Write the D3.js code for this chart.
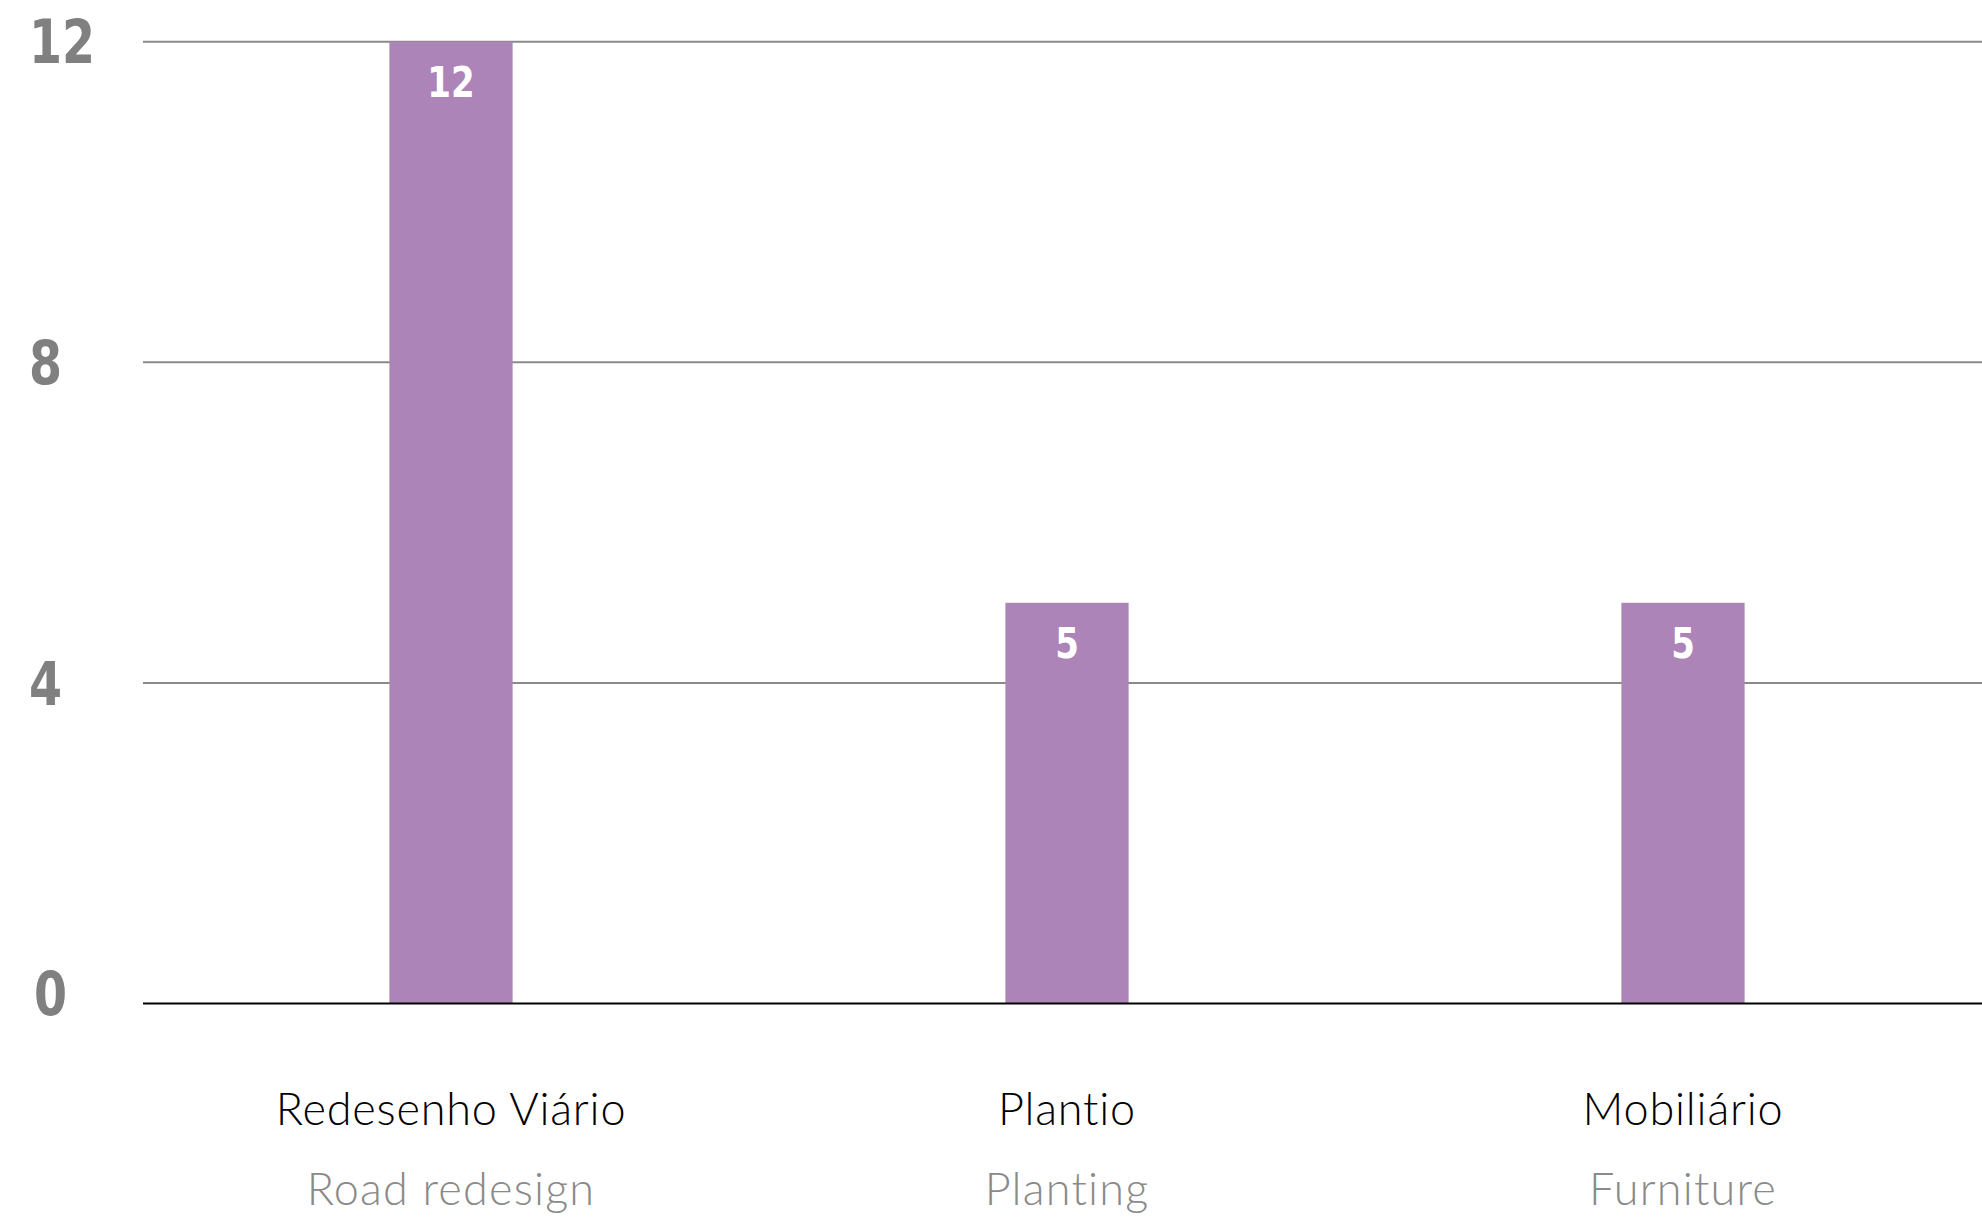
<!DOCTYPE html>
<html>
<head>
<meta charset="utf-8">
<script src="https://cdn.jsdelivr.net/npm/d3@7"></script>
<style>
  html, body { margin: 0; padding: 0; background: #ffffff; }
  svg { display: block; }
</style>
</head>
<body>
<svg id="chart" width="1982" height="1217"></svg>
<script>
// Interventions by type (count)
const categoriesPt = ["Redesenho Viário", "Plantio", "Mobiliário"];
const categoriesEn = ["Road redesign", "Planting", "Furniture"];
const values = [12, 5, 5];
const yTicks = [0, 4, 8, 12];

const W = 1982, H = 1217;
const plot = { left: 143, right: 1991, top: 41.7, bottom: 1003.6 };

const svg = d3.select("#chart");

const x = d3.scaleBand()
  .domain(categoriesPt)
  .range([plot.left, plot.right])
  .paddingInner(0.8)
  .paddingOuter(0.4);

const y = d3.scaleLinear()
  .domain([0, 12])
  .range([plot.bottom, plot.top]);

const numFont = "'DejaVu Sans Condensed', 'DejaVu Sans', sans-serif";
const textFont = "Lato, 'Open Sans', sans-serif";
const squeeze = 0.88; // horizontal compression for the condensed figures

// horizontal gridlines (non-zero)
svg.append("g")
  .selectAll("line")
  .data(yTicks.filter(d => d !== 0))
  .join("line")
  .attr("x1", plot.left)
  .attr("x2", W)
  .attr("y1", d => y(d))
  .attr("y2", d => y(d))
  .attr("stroke", "#8a8a8a")
  .attr("stroke-width", 2);

// y tick labels
svg.append("g")
  .selectAll("text")
  .data(yTicks)
  .join("text")
  .attr("transform", d => `translate(${d === 0 ? 34 : 29},${y(d) - (d === 0 ? 10 : 0)}) scale(${squeeze},1)`)
  .attr("dy", "0.36em")
  .attr("text-anchor", "start")
  .attr("font-family", numFont)
  .attr("font-weight", "bold")
  .attr("font-stretch", "condensed")
  .attr("font-size", 60)
  .attr("fill", "#808080")
  .text(d => d);

// bars
svg.append("g")
  .selectAll("rect")
  .data(values)
  .join("rect")
  .attr("x", (d, i) => x(categoriesPt[i]))
  .attr("y", d => y(d))
  .attr("width", x.bandwidth())
  .attr("height", d => y(0) - y(d))
  .attr("fill", "#ac84b8");

// value labels inside bars
svg.append("g")
  .selectAll("text")
  .data(values)
  .join("text")
  .attr("transform", (d, i) => `translate(${x(categoriesPt[i]) + x.bandwidth() / 2},${y(d) + 40}) scale(${squeeze},1)`)
  .attr("dy", "0.36em")
  .attr("text-anchor", "middle")
  .attr("font-family", numFont)
  .attr("font-weight", "bold")
  .attr("font-stretch", "condensed")
  .attr("font-size", 43)
  .attr("fill", "#ffffff")
  .text(d => d);

// baseline
svg.append("line")
  .attr("x1", plot.left)
  .attr("x2", W)
  .attr("y1", y(0))
  .attr("y2", y(0))
  .attr("stroke", "#000000")
  .attr("stroke-width", 2);

// category labels (Portuguese + English)
const cat = svg.append("g");
cat.selectAll("text.pt")
  .data(categoriesPt)
  .join("text")
  .attr("class", "pt")
  .attr("x", d => x(d) + x.bandwidth() / 2)
  .attr("y", 1125)
  .attr("text-anchor", "middle")
  .attr("font-family", textFont)
  .attr("font-weight", 300)
  .attr("font-size", 45)
  .attr("letter-spacing", 0.8)
  .attr("fill", "#000000")
  .text(d => d);

cat.selectAll("text.en")
  .data(categoriesEn)
  .join("text")
  .attr("class", "en")
  .attr("x", (d, i) => x(categoriesPt[i]) + x.bandwidth() / 2)
  .attr("y", 1205)
  .attr("text-anchor", "middle")
  .attr("font-family", textFont)
  .attr("font-weight", 300)
  .attr("font-size", 45)
  .attr("letter-spacing", 1.2)
  .attr("fill", "#8a8a8a")
  .text(d => d);
</script>
</body>
</html>
